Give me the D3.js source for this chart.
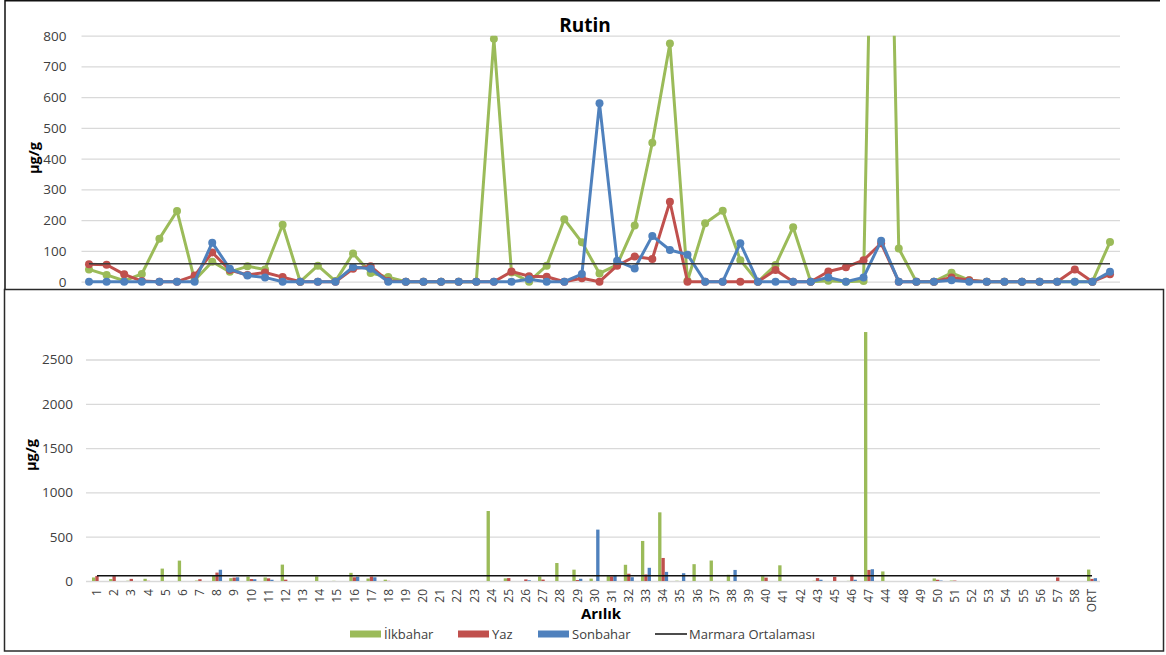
<!DOCTYPE html>
<html>
<head>
<meta charset="utf-8">
<script src="https://cdn.jsdelivr.net/npm/d3@7"></script>
<style>
  body { margin: 0; background: #fff; }
  text { font-family: "Open Sans", sans-serif; }
</style>
</head>
<body>
<script>
// chart data
var categories = ["1","2","3","4","5","6","7","8","9","10","11","12","13","14","15","16","17","18","19","20",
  "21","22","23","24","25","26","27","28","29","30","31","32","33","34","35","36","37","38","39","40",
  "41","42","43","45","46","47","44","48","49","50","51","52","53","54","55","56","57","58","ORT"];

var ilkbahar = [40, 22, 3, 25, 140, 230, 5, 65, 32, 50, 40, 185, 0, 52, 2, 92, 28, 15, 0, 0,
  0, 0, 0, 790, 30, 0, 52, 203, 128, 27, 55, 183, 452, 775, 3, 190, 231, 70, 0, 54,
  177, 0, 3, 0, 2, 2810, 108, 0, 0, 29, 5, 0, 0, 0, 0, 0, 0, 0, 129];

var yaz = [57, 55, 24, 2, 0, 0, 20, 95, 38, 22, 30, 15, 0, 0, 0, 42, 50, 2, 0, 0,
  0, 0, 0, 0, 33, 18, 16, 0, 11, 0, 52, 82, 74, 260, 0, 0, 0, 0, 0, 38,
  0, 0, 33, 47, 70, 125, 0, 0, 0, 14, 5, 0, 0, 0, 0, 0, 40, 0, 24];

var sonbahar = [0, 0, 0, 0, 0, 0, 0, 127, 42, 20, 14, 0, 0, 0, 0, 48, 42, 0, 0, 0,
  0, 0, 0, 0, 0, 8, 0, 0, 25, 580, 68, 43, 149, 103, 88, 0, 0, 125, 0, 0,
  0, 0, 14, 0, 14, 133, 0, 0, 0, 5, 0, 0, 0, 0, 0, 0, 0, 0, 32];

var marmaraOrtalamasi = 58;

var seriesNames = ["İlkbahar", "Yaz", "Sonbahar"];
var seriesColors = ["#9bbb59", "#c0504d", "#4f81bd"];
var lineTicks = [0, 100, 200, 300, 400, 500, 600, 700, 800];
var barTicks = [0, 500, 1000, 1500, 2000, 2500];

var allSeries = [ilkbahar, yaz, sonbahar];

var width = 1166, height = 655;

var svg = d3.select("body").append("svg")
    .attr("width", width)
    .attr("height", height);

// ---------- top panel: line chart ----------
var topPanel = svg.append("g");

topPanel.append("rect")
    .attr("x", 0).attr("y", 0)
    .attr("width", width).attr("height", 289)
    .attr("fill", "#fff");

var xLine = d3.scalePoint()
    .domain(categories)
    .range([89, 1110]);

var yLine = d3.scaleLinear()
    .domain([0, 800])
    .range([281.7, 35.7]);

// gridlines + y labels
var yAxisTop = topPanel.append("g")
    .attr("transform", "translate(81.5,0)")
    .call(d3.axisLeft(yLine)
        .tickValues(lineTicks)
        .tickFormat(d3.format("d"))
        .tickSize(-(1120 - 81.5))
        .tickPadding(15));
yAxisTop.select(".domain").remove();
yAxisTop.selectAll("line").attr("stroke", "#d9d9d9").attr("stroke-width", 1.3);
yAxisTop.selectAll("text")
    .attr("fill", "#404040")
    .style("font-size", "13.5px");

topPanel.append("text")
    .attr("x", 585).attr("y", 32)
    .attr("text-anchor", "middle")
    .style("font-size", "19px")
    .style("font-weight", "bold")
    .text("Rutin");

topPanel.append("text")
    .attr("transform", "translate(39,158) rotate(-90)")
    .attr("text-anchor", "middle")
    .style("font-size", "14.5px")
    .style("font-weight", "bold")
    .text("µg/g");

topPanel.append("clipPath").attr("id", "clipTop")
  .append("rect")
    .attr("x", 70).attr("y", 35.7)
    .attr("width", 1070).attr("height", 260);

var plotTop = topPanel.append("g").attr("clip-path", "url(#clipTop)");

var line = d3.line()
    .x(function(d, i) { return xLine(categories[i]); })
    .y(function(d) { return yLine(d); });

allSeries.forEach(function(values, s) {
  var g = plotTop.append("g");
  g.append("path")
      .datum(values)
      .attr("d", line)
      .attr("fill", "none")
      .attr("stroke", seriesColors[s])
      .attr("stroke-width", 3)
      .attr("stroke-linejoin", "round");
  g.selectAll("circle")
      .data(values)
      .enter().append("circle")
      .attr("cx", function(d, i) { return xLine(categories[i]); })
      .attr("cy", function(d) { return yLine(d); })
      .attr("r", 4)
      .attr("fill", seriesColors[s]);
});

// Marmara average
topPanel.append("line")
    .attr("x1", xLine(categories[0]))
    .attr("x2", xLine(categories[categories.length - 1]))
    .attr("y1", yLine(marmaraOrtalamasi))
    .attr("y2", yLine(marmaraOrtalamasi))
    .attr("stroke", "#3a3a3a")
    .attr("stroke-width", 1.5);

// top panel border (top and left)
topPanel.append("path")
    .attr("d", "M5,289 V0.75 H1160")
    .attr("fill", "none")
    .attr("stroke", "#111")
    .attr("stroke-width", 1.5);

// ---------- bottom panel: bar chart ----------
var bottomPanel = svg.append("g");

bottomPanel.append("rect")
    .attr("x", 4.5).attr("y", 289.5)
    .attr("width", 1159).attr("height", 361.5)
    .attr("fill", "#fff")
    .attr("stroke", "#2a2a2a")
    .attr("stroke-width", 1.5);

var xBar = d3.scaleBand()
    .domain(categories)
    .range([88.4, 1100.6]);

var xSub = d3.scaleBand()
    .domain(seriesNames)
    .range([-5, 5]);

var yBar = d3.scaleLinear()
    .domain([0, 3000])
    .range([581, 315.2]);

var yAxisBottom = bottomPanel.append("g")
    .attr("transform", "translate(86,0)")
    .call(d3.axisLeft(yBar)
        .tickValues(barTicks)
        .tickFormat(d3.format("d"))
        .tickSize(-(1100 - 86))
        .tickPadding(13));
yAxisBottom.select(".domain").remove();
yAxisBottom.selectAll("line").attr("stroke", "#d9d9d9").attr("stroke-width", 1.3);
yAxisBottom.selectAll("text")
    .attr("fill", "#404040")
    .style("font-size", "13.5px");

bottomPanel.append("text")
    .attr("transform", "translate(36,455) rotate(-90)")
    .attr("text-anchor", "middle")
    .style("font-size", "14.5px")
    .style("font-weight", "bold")
    .text("µg/g");

var groups = bottomPanel.selectAll("g.cat")
    .data(categories)
    .enter().append("g")
    .attr("class", "cat")
    .attr("transform", function(d) { return "translate(" + (xBar(d) + xBar.bandwidth() / 2) + ",0)"; });

groups.selectAll("rect")
    .data(function(d, i) {
      return seriesNames.map(function(name, s) { return { name: name, value: allSeries[s][i], color: seriesColors[s] }; });
    })
    .enter().append("rect")
    .attr("x", function(d) { return xSub(d.name); })
    .attr("width", xSub.bandwidth())
    .attr("y", function(d) { return yBar(d.value); })
    .attr("height", function(d) { return yBar(0) - yBar(d.value); })
    .attr("fill", function(d) { return d.color; });

bottomPanel.append("line")
    .attr("x1", xBar(categories[0]) + xBar.bandwidth() / 2)
    .attr("x2", xBar(categories[categories.length - 1]) + xBar.bandwidth() / 2)
    .attr("y1", yBar(marmaraOrtalamasi))
    .attr("y2", yBar(marmaraOrtalamasi))
    .attr("stroke", "#111")
    .attr("stroke-width", 1.5);

// x labels, rotated
var xAxisBottom = bottomPanel.append("g")
    .attr("transform", "translate(0,581)")
    .call(d3.axisBottom(xBar).tickSize(0));
xAxisBottom.select(".domain").remove();
xAxisBottom.selectAll("text")
    .attr("transform", "rotate(-90)")
    .attr("x", -8)
    .attr("y", 0)
    .attr("dy", "0.35em")
    .attr("text-anchor", "end")
    .attr("fill", "#404040")
    .style("font-size", "12px");

bottomPanel.append("text")
    .attr("x", 601).attr("y", 619)
    .attr("text-anchor", "middle")
    .style("font-size", "15px")
    .style("font-weight", "bold")
    .text("Arılık");

// legend
var legendItems = [
  { name: "İlkbahar", color: seriesColors[0], x: 350, type: "rect" },
  { name: "Yaz", color: seriesColors[1], x: 458, type: "rect" },
  { name: "Sonbahar", color: seriesColors[2], x: 538, type: "rect" },
  { name: "Marmara Ortalaması", color: "#111", x: 655, type: "line" }
];

var legend = bottomPanel.selectAll("g.legend")
    .data(legendItems)
    .enter().append("g")
    .attr("class", "legend")
    .attr("transform", function(d) { return "translate(" + d.x + ",634)"; });

legend.filter(function(d) { return d.type === "rect"; })
  .append("rect")
    .attr("x", 0).attr("y", -3.5)
    .attr("width", 31).attr("height", 7)
    .attr("fill", function(d) { return d.color; });

legend.filter(function(d) { return d.type === "line"; })
  .append("line")
    .attr("x1", 0).attr("x2", 32)
    .attr("y1", 0).attr("y2", 0)
    .attr("stroke", function(d) { return d.color; })
    .attr("stroke-width", 1.5);

legend.append("text")
    .attr("x", 34).attr("y", 4.5)
    .attr("fill", "#404040")
    .style("font-size", "13px")
    .text(function(d) { return d.name; });
</script>
</body>
</html>
